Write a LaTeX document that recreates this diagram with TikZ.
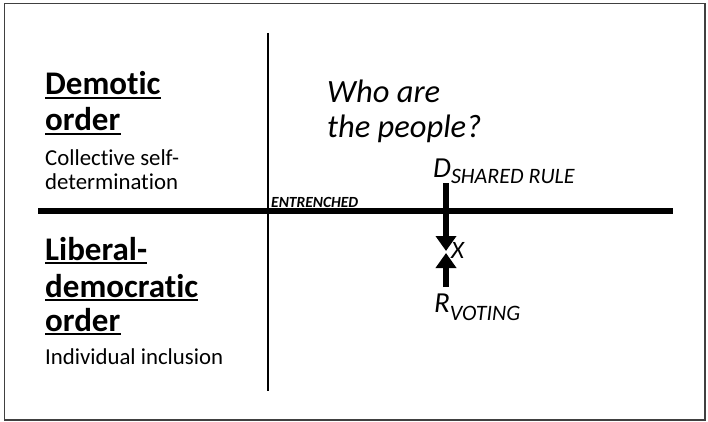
\documentclass[tikz,border=0pt]{standalone}
\usepackage{fontspec}
\setmainfont{Carlito}[Ligatures=NoCommon]
\usetikzlibrary{arrows.meta}
\begin{document}
\begin{tikzpicture}[x=1pt,y=-1pt,
  lbl/.style={inner sep=0pt,anchor=base west},
  head/.style={lbl,font=\fontsize{33}{36}\selectfont\bfseries},
  body/.style={lbl,font=\fontsize{22.8}{26}\selectfont},
  ulinestyle/.style={line width=2pt},
  bigarrow/.style={line width=6pt,-{Triangle[width=20pt,length=15pt]}}]
\useasboundingbox (0,0) rectangle (708,422);
\draw[line width=1.5pt,black!75] (4.5,3.5) rectangle (705,420);
% axes
\coordinate (vtop) at (268,33);
\coordinate (vbot) at (268,391);
\coordinate (hleft) at (38,211);
\coordinate (hright) at (673,211);
\draw[line width=1.3pt] (vtop) -- (vbot);
\draw[line width=6.5pt] (hleft) -- (hright);
% left texts
\node[head] (dem1) at (45,95) {Demotic};
\node[head] (dem2) at (45,131) {order};
\node[body] (col1) at (45,165) {Collective self-};
\node[body] (col2) at (45,189) {determination};
\node[head] (lib1) at (45,260) {Liberal-};
\node[head] (lib2) at (45,297) {democratic};
\node[head] (lib3) at (45,331) {order};
\node[body] (ind) at (45,364) {Individual inclusion};
\foreach \n in {dem1,dem2,lib1,lib2,lib3}
  \draw[ulinestyle] ([yshift=-3pt]\n.base west) -- ([yshift=-3pt]\n.base east);
% right texts
\node[lbl,font=\fontsize{32.5}{36}\selectfont\itshape] (who1) at (327,103) {Who are};
\node[lbl,font=\fontsize{32.5}{36}\selectfont\itshape] (who2) at (327,138) {the people?};
\node[lbl,font=\fontsize{15.5}{18}\selectfont\bfseries\itshape] (ent) at (271,207) {ENTRENCHED};
\node[lbl,font=\fontsize{29}{30}\selectfont\itshape] (D) at (433,177) {D\raisebox{-6pt}{\fontsize{22}{22}\selectfont SHARED RULE}};
\node[lbl,font=\fontsize{29}{30}\selectfont\itshape] (R) at (434,312) {R\raisebox{-8pt}{\fontsize{22}{22}\selectfont VOTING}};
\node[lbl,font=\fontsize{25}{26}\selectfont\itshape] (X) at (451,258) {X};
% arrows
\coordinate (dtop) at (446,183);
\coordinate (xup) at (446,251);
\coordinate (xdown) at (446,253);
\coordinate (rbot) at (446,287);
\draw[bigarrow] (dtop) -- (xup);
\draw[bigarrow] (rbot) -- (xdown);
\end{tikzpicture}
\end{document}
